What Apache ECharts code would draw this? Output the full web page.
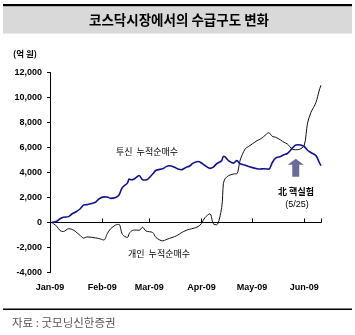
<!DOCTYPE html>
<html>
<head>
<meta charset="utf-8">
<script src="https://cdn.jsdelivr.net/npm/echarts@6/dist/echarts.min.js"></script>
<style>
  html, body { margin: 0; padding: 0; background: #fff; }
  #chart { width: 355px; height: 335px; }
</style>
</head>
<body>
<div id="chart"></div>
<script>
// Trading-day sample dates (2009)
const dates = [
  '2009-01-02','2009-01-05','2009-01-07','2009-01-09','2009-01-12','2009-01-14','2009-01-16',
  '2009-01-19','2009-01-21','2009-01-23','2009-01-28','2009-01-30',
  '2009-02-02','2009-02-04','2009-02-06','2009-02-09','2009-02-11','2009-02-13','2009-02-16',
  '2009-02-17','2009-02-18','2009-02-20','2009-02-23','2009-02-25','2009-02-27',
  '2009-03-03','2009-03-05','2009-03-09','2009-03-11','2009-03-13','2009-03-16','2009-03-18',
  '2009-03-20','2009-03-23','2009-03-25','2009-03-27','2009-03-30',
  '2009-04-01','2009-04-03','2009-04-06','2009-04-08','2009-04-10','2009-04-13','2009-04-14',
  '2009-04-15','2009-04-17','2009-04-20','2009-04-22','2009-04-24','2009-04-27','2009-04-29',
  '2009-05-04','2009-05-06','2009-05-08','2009-05-11','2009-05-13','2009-05-15','2009-05-18',
  '2009-05-20','2009-05-22','2009-05-25','2009-05-27','2009-05-29',
  '2009-06-01','2009-06-03','2009-06-05','2009-06-08','2009-06-10','2009-06-11'
];

// 투신 누적순매수 (억 원)
const trustNetBuy = [
  0, 100, 300, 420, 470, 680, 820,
  1100, 1400, 1430, 1620, 1880,
  2050, 2040, 1930, 2000, 2200, 2800, 3150,
  3480, 3420, 3480, 3760, 3420, 3400,
  3880, 4180, 4300, 4470, 4540, 4420, 4280,
  4220, 4420, 4520, 4750, 4880,
  4760, 4560, 4330, 4430, 4700, 4950, 5300,
  5250, 4950, 4750, 4950, 4700, 4580, 4480,
  4300, 4280, 4300, 4270, 4780, 5150, 5280,
  5420, 5520, 5950, 6200, 6220,
  6080, 5780, 5600, 5350, 4800, 4550
];

// 개인 누적순매수 (억 원)
const retailNetBuy = [
  0, -300, -650, -720, -500, -550, -700,
  -1050, -1250, -1150, -1230, -1280,
  -1400, -900, -500, -200, -150, -950, -1200,
  -900, -720, -600, -620, -380, -680,
  -800, -1200, -1470, -1370, -1270, -1130, -1000,
  -820, -620, -540, -470, -330,
  -80, 380, 700, -100, -180, 1200, 3100,
  3500, 3740, 3880, 3900, 5000, 5900, 6080,
  6550, 6680, 6880, 7180, 6900, 6820, 6600,
  6420, 6280, 5870, 5820, 5850,
  6150, 7950, 8800, 9600, 10600, 10980
];

const yTicks = { min: -4000, max: 12000, step: 2000 };
const monthNames = ['Jan','Feb','Mar','Apr','May','Jun','Jul','Aug','Sep','Oct','Nov','Dec'];
const xRange = { min: '2009-01-01', max: '2009-06-11' };
const eventMark = { date: '2009-05-27', value: 4380 };

const pair = arr => dates.map((d, i) => [d, arr[i]]);

const latin = '"Liberation Sans", Arial, sans-serif';
const kr = '"Noto Sans CJK KR", sans-serif';

const chart = echarts.init(document.getElementById('chart'), null, { renderer: 'canvas' });

chart.setOption({
  animation: false,
  backgroundColor: '#fff',
  grid: { left: 50, right: 34, top: 72.5, bottom: 62.5, containLabel: false },
  xAxis: [
    {
      type: 'time',
      min: xRange.min,
      max: xRange.max,
      splitNumber: 5,
      axisLine: { show: false, onZero: false },
      axisTick: { show: false },
      splitLine: { show: false },
      axisLabel: {
        margin: 11,
        fontFamily: latin,
        fontSize: 9,
        fontWeight: 'bold',
        color: '#000',
        showMinLabel: true,
        showMaxLabel: false,
        hideOverlap: false,
        formatter: function (v) {
          const d = new Date(v);
          if (d.getDate() !== 1) return '';
          return monthNames[d.getMonth()] + '-' + String(d.getFullYear()).slice(2);
        }
      }
    },
    {
      type: 'time',
      position: 'top',
      min: xRange.min,
      max: xRange.max,
      splitNumber: 5,
      axisLine: { show: true, onZero: true, lineStyle: { color: '#000', width: 1 } },
      axisTick: { show: true, length: 4, lineStyle: { color: '#000', width: 1 } },
      axisLabel: { show: false },
      splitLine: { show: false }
    }
  ],
  yAxis: {
    type: 'value',
    min: yTicks.min,
    max: yTicks.max,
    interval: yTicks.step,
    axisLine: { show: true, lineStyle: { color: '#000', width: 1 } },
    axisTick: { show: true, length: 3, lineStyle: { color: '#000' } },
    splitLine: { show: false },
    axisLabel: {
      margin: 8,
      fontFamily: latin,
      fontSize: 9,
      fontWeight: 'bold',
      color: '#000',
      formatter: v => v.toLocaleString('en-US')
    }
  },
  series: [
    {
      name: '개인 누적순매수',
      type: 'line',
      xAxisIndex: 0,
      data: pair(retailNetBuy),
      showSymbol: false,
      smooth: 0.3,
      lineStyle: { color: '#111', width: 1 },
      z: 3
    },
    {
      name: '투신 누적순매수',
      type: 'line',
      xAxisIndex: 0,
      data: pair(trustNetBuy),
      showSymbol: false,
      smooth: 0.3,
      lineStyle: { color: '#12128c', width: 1.6 },
      z: 4,
      markPoint: {
        silent: true,
        symbol: 'path://M8,0 L16,6 L11.5,6 L11.5,18 L4.5,18 L4.5,6 L0,6 Z',
        symbolKeepAspect: false,
        symbolSize: [16, 18],
        itemStyle: { color: '#6a6a9c' },
        label: { show: false },
        data: [{ coord: [eventMark.date, eventMark.value] }]
      }
    }
  ],
  graphic: [
    { type: 'rect', shape: { x: 3, y: 4, width: 349, height: 2.5 }, style: { fill: '#000' } },
    { type: 'rect', shape: { x: 3, y: 6.5, width: 349, height: 27 }, style: { fill: '#d9d9d9' } },
    { type: 'text', x: 179, y: 20, style: { text: '코스닥시장에서의 수급구도 변화', font: 'bold 13.5px ' + kr, fill: '#000', textAlign: 'center', textVerticalAlign: 'middle' } },
    { type: 'text', x: 13, y: 54, style: { text: '(억 원)', font: 'bold 8.5px ' + kr, fill: '#000', textAlign: 'left', textVerticalAlign: 'middle' } },
    { type: 'text', x: 147, y: 152, style: { text: '투신  누적순매수', font: '9px ' + kr, fill: '#000', textAlign: 'center', textVerticalAlign: 'middle' } },
    { type: 'text', x: 159, y: 254, style: { text: '개인  누적순매수', font: '9px ' + kr, fill: '#000', textAlign: 'center', textVerticalAlign: 'middle' } },
    { type: 'text', x: 296, y: 192, style: { text: '北 핵실험', font: 'bold 9px ' + kr, fill: '#000', textAlign: 'center', textVerticalAlign: 'middle' } },
    { type: 'text', x: 297, y: 205, style: { text: '(5/25)', font: '9px ' + latin, fill: '#000', textAlign: 'center', textVerticalAlign: 'middle' } },
    { type: 'rect', shape: { x: 3, y: 308.5, width: 349, height: 1.5 }, style: { fill: '#000' } },
    { type: 'text', x: 12, y: 323, style: { text: '자료 : 굿모닝신한증권', font: '11.5px ' + kr, fill: '#555', textAlign: 'left', textVerticalAlign: 'middle' } }
  ]
});
</script>
</body>
</html>
